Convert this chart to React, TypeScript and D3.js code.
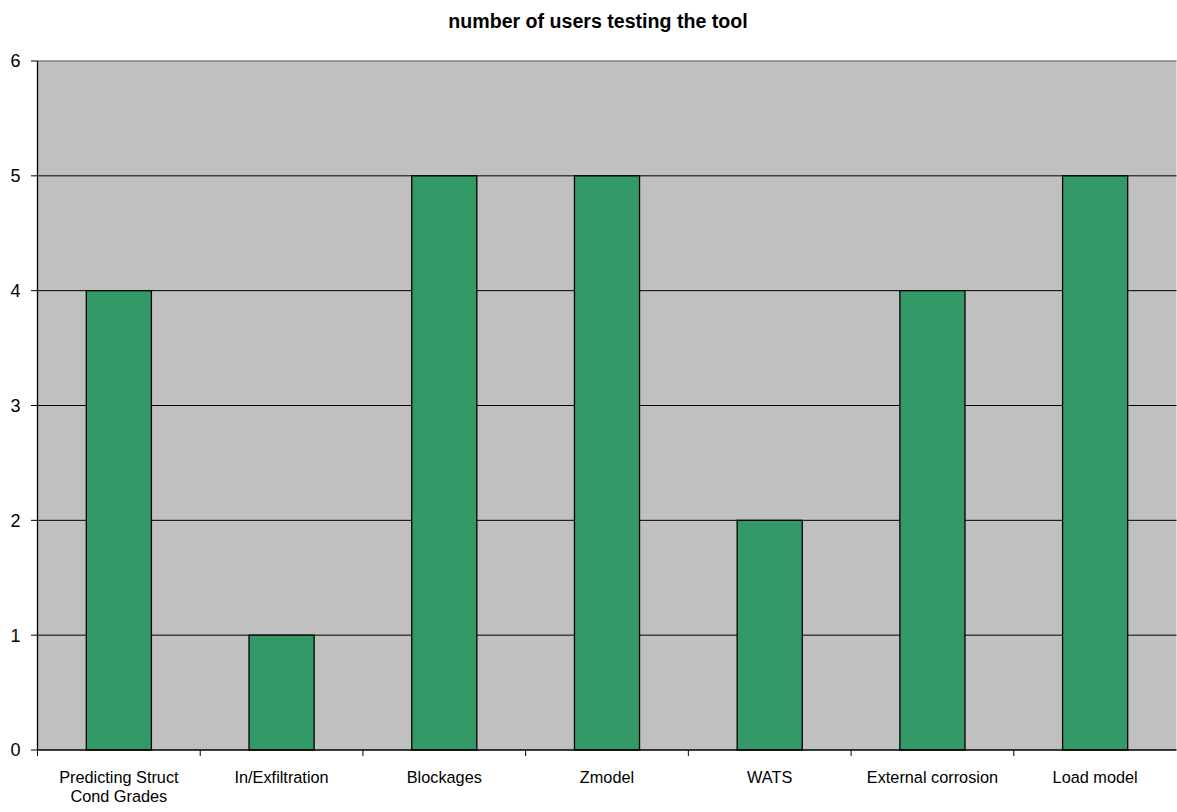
import React from "react";
import * as d3 from "d3";

const categories: string[][] = [
  ["Predicting Struct", "Cond Grades"],
  ["In/Exfiltration"],
  ["Blockages"],
  ["Zmodel"],
  ["WATS"],
  ["External corrosion"],
  ["Load model"],
];
const users: number[] = [4, 1, 5, 5, 2, 4, 5];
const yTicks: number[] = [0, 1, 2, 3, 4, 5, 6];
const title = "number of users testing the tool";

const W = 1177;
const H = 812;
const plot = { left: 37.5, right: 1176.5, top: 61, bottom: 750 };
const FONT = "'Liberation Sans', Arial, sans-serif";

export default function App() {
  const keys = categories.map((c) => c.join(" "));
  const x = d3
    .scaleBand<string>()
    .domain(keys)
    .range([plot.left, plot.right])
    .paddingInner(0.6)
    .paddingOuter(0.3);
  const step = x.step();
  const y = d3.scaleLinear().domain([0, 6]).range([plot.bottom, plot.top]);

  return (
    <div style={{ position: "absolute", left: 0, top: 0 }}>
      <svg width={W} height={H} style={{ display: "block", background: "#fff" }}>
        <rect
          x={plot.left}
          y={plot.top}
          width={plot.right - plot.left}
          height={plot.bottom - plot.top}
          fill="#c0c0c0"
        />
        {yTicks.map((t) => (
          <g key={t}>
            {t > 0 && (
              <line
                x1={plot.left}
                x2={plot.right}
                y1={y(t)}
                y2={y(t)}
                stroke={t === 6 ? "#808080" : "#000"}
                strokeWidth={t === 6 ? 1.5 : 1}
              />
            )}
            <line x1={plot.left - 6.5} x2={plot.left} y1={y(t)} y2={y(t)} stroke="#000" />
            <text
              x={plot.left - 17}
              y={y(t)}
              dy="0.36em"
              textAnchor="end"
              fontFamily={FONT}
              fontSize={18}
              fill="#000"
            >
              {t}
            </text>
          </g>
        ))}
        {users.map((v, i) => (
          <rect
            key={keys[i]}
            x={x(keys[i])!}
            y={y(v)}
            width={x.bandwidth()}
            height={y(0) - y(v)}
            fill="#339966"
            stroke="#000"
            strokeWidth={1.3}
          />
        ))}
        <line x1={plot.left} x2={plot.left} y1={plot.top} y2={plot.bottom} stroke="#000" strokeWidth={1.3} />
        <line x1={plot.left} x2={plot.right} y1={plot.bottom} y2={plot.bottom} stroke="#000" strokeWidth={1.3} />
        {d3.range(keys.length).map((i) => (
          <line
            key={i}
            x1={plot.left + i * step}
            x2={plot.left + i * step}
            y1={plot.bottom}
            y2={plot.bottom + 6}
            stroke="#000"
          />
        ))}
        {categories.map((lines, i) => (
          <text
            key={keys[i]}
            x={x(keys[i])! + x.bandwidth() / 2}
            y={783}
            textAnchor="middle"
            fontFamily={FONT}
            fontSize={16.3}
            fill="#000"
          >
            {lines.map((l, j) => (
              <tspan key={j} x={x(keys[i])! + x.bandwidth() / 2} dy={j === 0 ? 0 : 19}>
                {l}
              </tspan>
            ))}
          </text>
        ))}
        <text
          x={598}
          y={28}
          textAnchor="middle"
          fontFamily={FONT}
          fontSize={19.6}
          fontWeight="bold"
          fill="#000"
        >
          {title}
        </text>
      </svg>
    </div>
  );
}
